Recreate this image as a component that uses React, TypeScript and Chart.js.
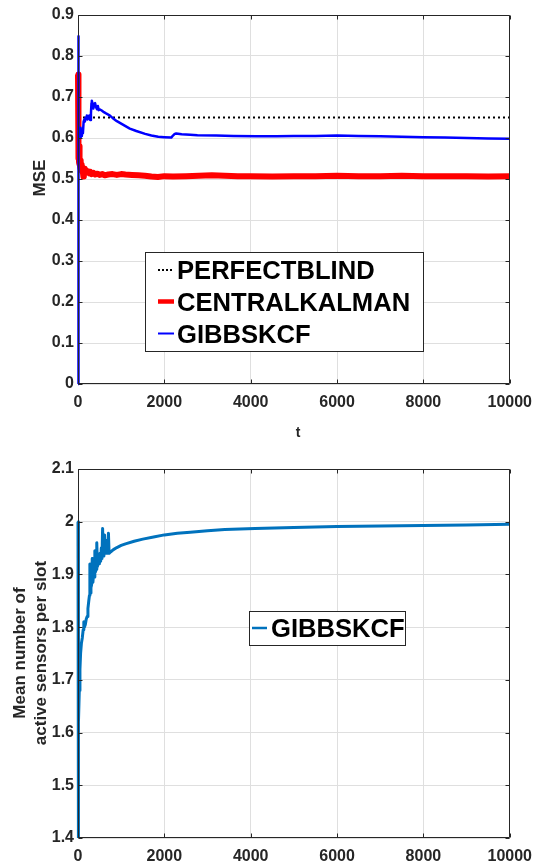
import React, { useEffect, useRef } from "react";
import { Chart, registerables } from "chart.js";

Chart.register(...registerables);

// ---------- data ----------
const xTicks = [0, 2000, 4000, 6000, 8000, 10000];
const mseTicks = [0, 0.1, 0.2, 0.3, 0.4, 0.5, 0.6, 0.7, 0.8, 0.9];
const activeTicks = [1.4, 1.5, 1.6, 1.7, 1.8, 1.9, 2.0, 2.1];

const blindT = [0, 10000];
const blindV = [0.65, 0.65];

const kalmanT = [0, 3, 6, 9, 12, 16, 20, 25, 30, 36, 42, 50, 58, 66, 75, 85, 95, 105, 115, 125, 135, 145, 160, 175, 190, 210, 230, 260, 290, 320, 360, 400, 450, 500, 560, 620, 700, 800, 900, 1000, 1100, 1250, 1400, 1550, 1700, 1850, 2000, 2200, 2500, 2800, 3100, 3400, 3700, 4000, 4500, 5000, 5500, 6000, 6500, 7000, 7500, 8000, 8500, 9000, 9500, 10000];
const kalmanV = [0.755, 0.70, 0.60, 0.56, 0.60, 0.55, 0.57, 0.54, 0.58, 0.535, 0.55, 0.53, 0.545, 0.525, 0.535, 0.52, 0.528, 0.515, 0.52, 0.506, 0.51, 0.522, 0.525, 0.518, 0.52, 0.516, 0.519, 0.514, 0.517, 0.512, 0.515, 0.511, 0.513, 0.51, 0.512, 0.509, 0.511, 0.512, 0.51, 0.512, 0.511, 0.51, 0.509, 0.508, 0.506, 0.505, 0.507, 0.506, 0.507, 0.508, 0.509, 0.508, 0.507, 0.507, 0.506, 0.507, 0.507, 0.508, 0.507, 0.507, 0.508, 0.507, 0.507, 0.507, 0.506, 0.507];

const gibbsT = [0, 4, 8, 14, 20, 30, 40, 50, 60, 75, 90, 114, 130, 145, 160, 175, 190, 205, 220, 240, 260, 282, 300, 312, 320, 335, 355, 375, 395, 418, 440, 460, 480, 500, 550, 600, 650, 721, 800, 900, 1000, 1100, 1200, 1350, 1555, 1700, 1858, 2000, 2160, 2200, 2240, 2274, 2400, 2600, 2767, 3200, 3600, 4132, 4600, 5000, 5500, 6000, 6500, 7000, 7500, 8000, 8500, 9000, 9500, 10000];
const gibbsV = [0, 0.848, 0.75, 0.66, 0.62, 0.60, 0.615, 0.60, 0.625, 0.605, 0.612, 0.612, 0.64, 0.645, 0.64, 0.65, 0.648, 0.655, 0.645, 0.65, 0.655, 0.644, 0.66, 0.685, 0.691, 0.684, 0.672, 0.683, 0.685, 0.675, 0.67, 0.678, 0.668, 0.67, 0.667, 0.663, 0.66, 0.656, 0.649, 0.641, 0.635, 0.629, 0.623, 0.617, 0.610, 0.606, 0.603, 0.602, 0.601, 0.606, 0.610, 0.611, 0.609, 0.608, 0.607, 0.606, 0.605, 0.604, 0.604, 0.605, 0.605, 0.606, 0.605, 0.604, 0.603, 0.602, 0.601, 0.600, 0.599, 0.598];

const activeT = [0, 2, 10, 20, 30, 45, 60, 80, 100, 120, 135, 150, 170, 190, 210, 230, 250, 265, 275, 285, 300, 315, 330, 345, 360, 375, 390, 405, 420, 435, 450, 465, 480, 495, 510, 525, 540, 555, 570, 585, 600, 615, 630, 645, 660, 675, 690, 705, 720, 760, 820, 900, 1000, 1100, 1300, 1500, 1750, 2000, 2300, 2600, 3000, 3400, 4100, 5000, 6000, 7000, 8000, 9000, 10000];
const activeV = [2.0, 1.35, 1.55, 1.62, 1.68, 1.72, 1.75, 1.77, 1.78, 1.795, 1.81, 1.80, 1.805, 1.815, 1.82, 1.835, 1.85, 1.86, 1.92, 1.865, 1.875, 1.88, 1.93, 1.885, 1.90, 1.895, 1.945, 1.905, 1.91, 1.96, 1.915, 1.925, 1.93, 1.92, 1.94, 1.925, 1.95, 1.93, 1.987, 1.935, 1.945, 1.975, 1.94, 1.96, 1.945, 1.965, 1.94, 1.978, 1.94, 1.943, 1.947, 1.951, 1.955, 1.958, 1.963, 1.967, 1.971, 1.975, 1.978, 1.980, 1.983, 1.985, 1.987, 1.989, 1.991, 1.992, 1.993, 1.994, 1.995];

const labelBlind = "PERFECTBLIND";
const labelKalman = "CENTRALKALMAN";
const labelGibbs = "GIBBSKCF";
const xTitle = "t";
const yTitleTop = "MSE";
const yTitleBottom = ["Mean number of", "active sensors per slot"];

// ---------- styles ----------
const FONT = '"Liberation Sans", Arial, Helvetica, sans-serif';
const TXT = "#262626";
const GRID = "#dfdfdf";

const pts = (t: number[], v: number[]) => t.map((x, i) => ({ x, y: v[i] }));
const fmt = (v: number) => String(parseFloat(Number(v).toFixed(1)));

function xScale(h: number) {
  return {
    type: "linear",
    min: 0,
    max: 10000,
    afterBuildTicks: (s: any) => {
      s.ticks = xTicks.map((v) => ({ value: v }));
    },
    afterFit: (s: any) => {
      s.height = h;
    },
    grid: { color: GRID, lineWidth: 1, drawTicks: false },
    border: { display: false },
    ticks: {
      padding: 9,
      color: TXT,
      font: { family: FONT, size: 16, weight: "bold" },
      maxRotation: 0,
      autoSkip: false,
      callback: (v: any) => String(v),
    },
  };
}

function yScale(min: number, max: number, ticks: number[]) {
  return {
    type: "linear",
    min,
    max,
    afterBuildTicks: (s: any) => {
      s.ticks = ticks.map((v) => ({ value: v }));
    },
    afterFit: (s: any) => {
      s.width = 78;
    },
    grid: { color: GRID, lineWidth: 1, drawTicks: false },
    border: { display: false },
    ticks: {
      padding: 4,
      color: TXT,
      font: { family: FONT, size: 16, weight: "bold" },
      autoSkip: false,
      callback: (v: any) => fmt(v),
    },
  };
}

const framePlugin = {
  id: "frame",
  afterDatasetsDraw(chart: any) {
    const { ctx, chartArea: a, scales } = chart;
    const L = Math.round(a.left) + 0.5;
    const R = Math.round(a.right) - 0.5;
    const T = Math.round(a.top) + 0.5;
    const B = Math.round(a.bottom) - 0.5;
    ctx.save();
    ctx.strokeStyle = TXT;
    ctx.lineWidth = 1;
    ctx.beginPath();
    ctx.rect(L, T, R - L, B - T);
    const tl = 4;
    for (const t of scales.x.ticks) {
      const px = Math.round(scales.x.getPixelForValue(t.value)) + 0.5;
      ctx.moveTo(px, B);
      ctx.lineTo(px, B - tl);
      ctx.moveTo(px, T);
      ctx.lineTo(px, T + tl);
    }
    for (const t of scales.y.ticks) {
      const py = Math.round(scales.y.getPixelForValue(t.value)) + 0.5;
      ctx.moveTo(L, py);
      ctx.lineTo(L + tl, py);
      ctx.moveTo(R, py);
      ctx.lineTo(R - tl, py);
    }
    ctx.stroke();
    ctx.restore();
  },
};

type LegendItem = { label: string; color: string; width: number; dash: number[] };

function legendPlugin(box: { x: number; y: number; w: number; h: number }, items: LegendItem[], rowY: number[], lineX: [number, number], textX: number) {
  return {
    id: "customLegend",
    afterDraw(chart: any) {
      const ctx = chart.ctx;
      ctx.save();
      ctx.fillStyle = "#ffffff";
      ctx.fillRect(box.x, box.y, box.w, box.h);
      ctx.strokeStyle = TXT;
      ctx.lineWidth = 1;
      ctx.strokeRect(box.x + 0.5, box.y + 0.5, box.w, box.h);
      items.forEach((it, i) => {
        const y = rowY[i];
        ctx.beginPath();
        ctx.strokeStyle = it.color;
        ctx.lineWidth = it.width;
        ctx.setLineDash(it.dash);
        ctx.moveTo(lineX[0], y);
        ctx.lineTo(lineX[1], y);
        ctx.stroke();
        ctx.setLineDash([]);
        ctx.fillStyle = "#000000";
        ctx.font = `bold 25.6px ${FONT}`;
        ctx.textAlign = "left";
        ctx.textBaseline = "alphabetic";
        ctx.fillText(it.label, textX, y + 9);
      });
      ctx.restore();
    },
  };
}

function titlesPlugin(yLines: string[], yXs: number[], yCenter: number, xTitleText: string | null, xTitlePos: [number, number]) {
  return {
    id: "titles",
    afterDraw(chart: any) {
      const ctx = chart.ctx;
      ctx.save();
      ctx.fillStyle = TXT;
      ctx.font = `bold 17px ${FONT}`;
      ctx.textAlign = "center";
      ctx.textBaseline = "middle";
      yLines.forEach((line, i) => {
        ctx.save();
        ctx.translate(yXs[i], yCenter);
        ctx.rotate(-Math.PI / 2);
        ctx.fillText(line, 0, 0);
        ctx.restore();
      });
      if (xTitleText) {
        ctx.font = `bold 14px ${FONT}`;
        ctx.fillText(xTitleText, xTitlePos[0], xTitlePos[1]);
      }
      ctx.restore();
    },
  };
}

export default function App() {
  const topRef = useRef<HTMLCanvasElement>(null);
  const botRef = useRef<HTMLCanvasElement>(null);

  useEffect(() => {
    const common = {
      responsive: false,
      maintainAspectRatio: false,
      animation: false,
      devicePixelRatio: 1,
      events: [],
      plugins: { legend: { display: false }, tooltip: { enabled: false } },
      elements: { point: { radius: 0 }, line: { tension: 0, borderJoinStyle: "round" } },
    };

    const c1 = new Chart(topRef.current as HTMLCanvasElement, {
      type: "line",
      data: {
        datasets: [
          {
            label: labelGibbs,
            data: pts(gibbsT, gibbsV),
            borderColor: "#0000ff",
            borderWidth: 2.5,
            order: 0,
            clip: { left: 4, right: 0, top: 0, bottom: 2 },
          },
          {
            label: labelKalman,
            data: pts(kalmanT, kalmanV),
            borderColor: "#ff0000",
            borderWidth: 6,
            order: 1,
            clip: { left: 4, right: 0, top: 0, bottom: 0 },
          },
          {
            label: labelBlind,
            data: pts(blindT, blindV),
            borderColor: "#000000",
            borderWidth: 2,
            borderDash: [2, 3],
            order: 2,
          },
        ],
      },
      options: {
        ...common,
        layout: { padding: { top: 15, right: 23, left: 0, bottom: 0 } },
        scales: { x: xScale(56), y: yScale(0, 0.9, mseTicks) },
      } as any,
      plugins: [
        framePlugin,
        legendPlugin(
          { x: 145, y: 252, w: 278, h: 99 },
          [
            { label: labelBlind, color: "#000000", width: 2, dash: [2, 2] },
            { label: labelKalman, color: "#ff0000", width: 4.5, dash: [] },
            { label: labelGibbs, color: "#0000ff", width: 2, dash: [] },
          ],
          [270, 301.5, 333.5],
          [158, 174],
          177
        ),
        titlesPlugin([yTitleTop], [40], 178, xTitle, [298, 433]),
      ] as any,
    } as any);

    const c2 = new Chart(botRef.current as HTMLCanvasElement, {
      type: "line",
      data: {
        datasets: [
          {
            label: labelGibbs,
            data: pts(activeT, activeV),
            borderColor: "#0072bd",
            borderWidth: 3,
            clip: { left: 4, right: 0, top: 0, bottom: 0 },
          },
        ],
      },
      options: {
        ...common,
        layout: { padding: { top: 29, right: 23, left: 0, bottom: 0 } },
        scales: { x: xScale(23), y: yScale(1.4, 2.1, activeTicks) },
      } as any,
      plugins: [
        framePlugin,
        legendPlugin(
          { x: 249, y: 171, w: 156, h: 34 },
          [{ label: labelGibbs, color: "#0072bd", width: 2.5, dash: [] }],
          [188],
          [252, 267],
          271
        ),
        titlesPlugin(yTitleBottom, [20, 41], 213, null, [0, 0]),
      ] as any,
    } as any);

    return () => {
      c1.destroy();
      c2.destroy();
    };
  }, []);

  return (
    <div style={{ position: "absolute", left: 0, top: 0, width: 541, height: 861, background: "#ffffff" }}>
      <canvas ref={topRef} width={541} height={440} style={{ position: "absolute", left: 0, top: 0, width: 541, height: 440 }} />
      <canvas ref={botRef} width={541} height={421} style={{ position: "absolute", left: 0, top: 440, width: 541, height: 421 }} />
    </div>
  );
}
